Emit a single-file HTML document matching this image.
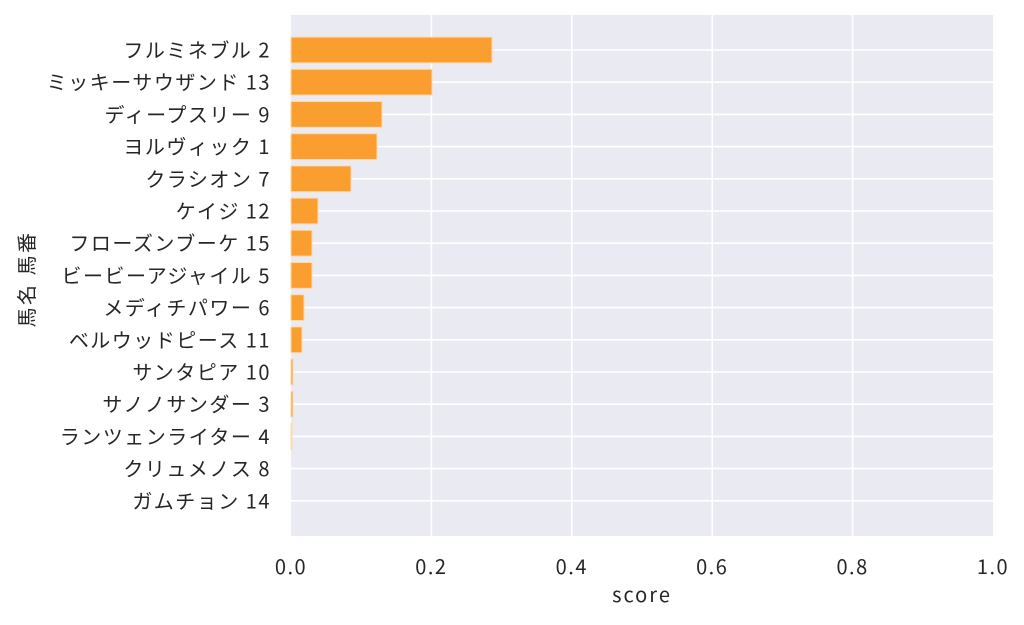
<!DOCTYPE html>
<html><head><meta charset="utf-8"><style>
html,body{margin:0;padding:0;background:#fff;}
svg text{font-family:"Noto Sans CJK JP","Liberation Sans",sans-serif;fill:#262626;}
</style></head><body>
<svg width="1024" height="620" xmlns="http://www.w3.org/2000/svg">
<rect x="291" y="15" width="702" height="521" fill="#eaeaf2"/>
<g stroke="#fff" stroke-width="1.6">
<line x1="431.4" y1="15" x2="431.4" y2="536"/>
<line x1="571.8" y1="15" x2="571.8" y2="536"/>
<line x1="712.2" y1="15" x2="712.2" y2="536"/>
<line x1="852.6" y1="15" x2="852.6" y2="536"/>
<line x1="291" y1="50" x2="993" y2="50"/>
<line x1="291" y1="82.2" x2="993" y2="82.2"/>
<line x1="291" y1="114.4" x2="993" y2="114.4"/>
<line x1="291" y1="146.6" x2="993" y2="146.6"/>
<line x1="291" y1="178.8" x2="993" y2="178.8"/>
<line x1="291" y1="211" x2="993" y2="211"/>
<line x1="291" y1="243.2" x2="993" y2="243.2"/>
<line x1="291" y1="275.4" x2="993" y2="275.4"/>
<line x1="291" y1="307.6" x2="993" y2="307.6"/>
<line x1="291" y1="339.8" x2="993" y2="339.8"/>
<line x1="291" y1="372" x2="993" y2="372"/>
<line x1="291" y1="404.2" x2="993" y2="404.2"/>
<line x1="291" y1="436.4" x2="993" y2="436.4"/>
<line x1="291" y1="468.6" x2="993" y2="468.6"/>
<line x1="291" y1="500.8" x2="993" y2="500.8"/>
</g>
<g fill="#fb9e30" stroke="#fdd9ab" stroke-width="1">
<rect x="291" y="37.1" width="201" height="25.8"/>
<rect x="291" y="69.3" width="141" height="25.8"/>
<rect x="291" y="101.5" width="91" height="25.8"/>
<rect x="291" y="133.7" width="86" height="25.8"/>
<rect x="291" y="165.9" width="60" height="25.8"/>
<rect x="291" y="198.1" width="27" height="25.8"/>
<rect x="291" y="230.3" width="21" height="25.8"/>
<rect x="291" y="262.5" width="21" height="25.8"/>
<rect x="291" y="294.7" width="13" height="25.8"/>
<rect x="291" y="326.9" width="11" height="25.8"/>
<rect x="291" y="359.1" width="2" height="25.8"/>
<rect x="291" y="391.3" width="2" height="25.8"/>
<rect x="291" y="423.5" width="1" height="25.8"/>
</g>
<g font-size="20" text-anchor="end" letter-spacing="1.5">
<text x="271" y="57.5">フルミネブル 2</text>
<text x="271" y="89.7">ミッキーサウザンド 13</text>
<text x="271" y="121.9">ディープスリー 9</text>
<text x="271" y="154.1">ヨルヴィック 1</text>
<text x="271" y="186.3">クラシオン 7</text>
<text x="271" y="218.5">ケイジ 12</text>
<text x="271" y="250.7">フローズンブーケ 15</text>
<text x="271" y="282.9">ビービーアジャイル 5</text>
<text x="271" y="315.1">メディチパワー 6</text>
<text x="271" y="347.3">ベルウッドピース 11</text>
<text x="271" y="379.5">サンタピア 10</text>
<text x="271" y="411.7">サノノサンダー 3</text>
<text x="271" y="443.9">ランツェンライター 4</text>
<text x="271" y="476.1">クリュメノス 8</text>
<text x="271" y="508.3">ガムチョン 14</text>
</g>
<g font-size="20" text-anchor="middle" letter-spacing="1.5">
<text x="291" y="574">0.0</text>
<text x="431.4" y="574">0.2</text>
<text x="571.8" y="574">0.4</text>
<text x="712.2" y="574">0.6</text>
<text x="852.6" y="574">0.8</text>
<text x="993" y="574">1.0</text>
<text x="642" y="602" letter-spacing="2">score</text>
<text transform="translate(34,279) rotate(-90)" letter-spacing="2.5">馬名 馬番</text>
</g>
</svg>
</body></html>
